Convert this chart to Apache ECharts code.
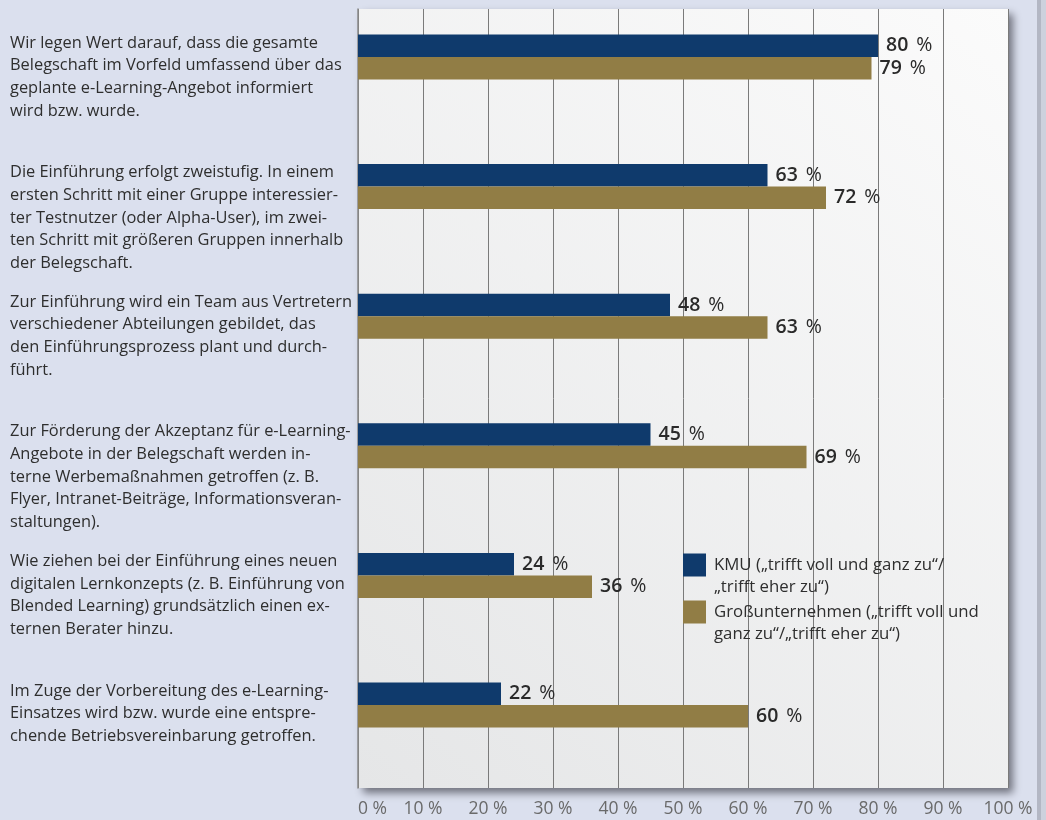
<!DOCTYPE html>
<html>
<head>
<meta charset="utf-8">
<script src="https://cdn.jsdelivr.net/npm/echarts@6/dist/echarts.min.js"></script>
<style>
html,body{margin:0;padding:0;background:#dbe0ee;}
#chart{width:1046px;height:820px;}
</style>
</head>
<body>
<div id="chart"></div>
<script>
const categories = [
  "Wir legen Wert darauf, dass die gesamte\nBelegschaft im Vorfeld umfassend über das\ngeplante e-Learning-Angebot informiert\nwird bzw. wurde.",
  "Die Einführung erfolgt zweistufig. In einem\nersten Schritt mit einer Gruppe interessier-\nter Testnutzer (oder Alpha-User), im zwei-\nten Schritt mit größeren Gruppen innerhalb\nder Belegschaft.",
  "Zur Einführung wird ein Team aus Vertretern\nverschiedener Abteilungen gebildet, das\nden Einführungsprozess plant und durch-\nführt.",
  "Zur Förderung der Akzeptanz für e-Learning-\nAngebote in der Belegschaft werden in-\nterne Werbemaßnahmen getroffen (z. B.\nFlyer, Intranet-Beiträge, Informationsveran-\nstaltungen).",
  "Wie ziehen bei der Einführung eines neuen\ndigitalen Lernkonzepts (z. B. Einführung von\nBlended Learning) grundsätzlich einen ex-\nternen Berater hinzu.",
  "Im Zuge der Vorbereitung des e-Learning-\nEinsatzes wird bzw. wurde eine entspre-\nchende Betriebsvereinbarung getroffen."
];
const seriesNames = [
  "KMU („trifft voll und ganz zu“/„trifft eher zu“)",
  "Großunternehmen („trifft voll und ganz zu“/„trifft eher zu“)"
];
const legendLabels = [
  " \nKMU („trifft voll und ganz zu“/\n„trifft eher zu“)",
  " \nGroßunternehmen („trifft voll und\nganz zu“/„trifft eher zu“)"
];
const kmuValues = [80, 63, 48, 45, 24, 22];
const grossValues = [79, 72, 63, 69, 36, 60];
const xTicks = [0, 10, 20, 30, 40, 50, 60, 70, 80, 90, 100];

const FONT = "Open Sans";
const chart = echarts.init(document.getElementById('chart'));

const plotLeft = 358, plotWidth = 650;
const barTop = -7.8, bandHeight = 777.6;

function legendFor(i, top) {
  return {
    data: [seriesNames[i]],
    left: 683, top: top, padding: 0,
    orient: 'vertical',
    itemWidth: 23, itemHeight: 23,
    icon: 'rect',
    selectedMode: false,
    formatter: function (n) { return legendLabels[seriesNames.indexOf(n)]; },
    textStyle: { fontFamily: FONT, fontSize: 16.8, color: '#2e2e2e', lineHeight: 22, padding: [0, 0, 0, 3] }
  };
}

const valueLabel = {
  show: true, position: 'right', distance: 8, formatter: '{v|{c}}{p|%}',
  rich: { v: { fontSize: 19.5, fontWeight: 600, color: '#2a2a2a', fontFamily: FONT },
          p: { fontSize: 19.5, fontWeight: 400, color: '#2a2a2a', fontFamily: FONT, padding: [0, 0, 0, 8] } }
};

chart.setOption({
  backgroundColor: '#dbe0ee',
  animation: false,
  textStyle: { fontFamily: FONT },
  graphic: [
    { type: 'rect', shape: { x: 1037, y: 0, width: 4, height: 820 }, style: { fill: '#b3b7c4' }, z: -10 },
    { type: 'rect', shape: { x: 1041, y: 0, width: 5, height: 820 }, style: { fill: '#cdd1dd' }, z: -10 }
  ],
  grid: [
    {
      left: plotLeft, top: 9, width: plotWidth, height: 779, show: true, borderWidth: 0,
      outerBoundsMode: 'none', containLabel: false,
      backgroundColor: { type: 'linear', x: 0, y: 1, x2: 1, y2: 0,
        colorStops: [{ offset: 0, color: '#e5e6e7' }, { offset: 1, color: '#fbfbfb' }] },
      shadowColor: 'rgba(40,40,50,0.6)', shadowBlur: 8, shadowOffsetX: 5, shadowOffsetY: 5
    },
    { left: plotLeft, top: barTop, width: plotWidth, height: bandHeight, outerBoundsMode: 'none', containLabel: false },
    { left: plotLeft, top: barTop - 25.5, width: plotWidth, height: bandHeight, outerBoundsMode: 'none', containLabel: false }
  ],
  xAxis: [
    {
      gridIndex: 0, type: 'value', min: 0, max: 100, interval: 10,
      axisLine: { show: false }, axisTick: { show: false },
      splitLine: { show: true, lineStyle: { color: '#7a7a7a', width: 1 } },
      axisLabel: { formatter: '{value} %', color: '#6a6a6a', fontSize: 17.5, margin: 12, alignMinLabel: 'left', fontFamily: FONT }
    },
    { gridIndex: 1, type: 'value', min: 0, max: 100, show: false },
    { gridIndex: 2, type: 'value', min: 0, max: 100, show: false }
  ],
  yAxis: [
    { gridIndex: 0, type: 'value', min: 0, max: 1,
      axisLine: { show: true, lineStyle: { color: '#8a8a8a', width: 1.5 } },
      axisTick: { show: false }, axisLabel: { show: false }, splitLine: { show: false } },
    { gridIndex: 1, type: 'category', inverse: true, data: categories, show: false },
    { gridIndex: 2, type: 'category', inverse: true, data: categories,
      axisLine: { show: false }, axisTick: { show: false }, splitLine: { show: false },
      axisLabel: { show: true, align: 'left', margin: 348, verticalAlign: 'top', color: '#2e2e2e',
        fontSize: 16.4, lineHeight: 22.7, fontFamily: FONT, interval: 0 } }
  ],
  legend: [legendFor(0, 532), legendFor(1, 579)],
  series: [
    {
      name: seriesNames[0], type: 'bar', xAxisIndex: 1, yAxisIndex: 1,
      data: kmuValues, barWidth: 22.5, barGap: '0%',
      itemStyle: { color: '#0f3a6c' }, label: valueLabel
    },
    {
      name: seriesNames[1], type: 'bar', xAxisIndex: 1, yAxisIndex: 1,
      data: grossValues, barWidth: 22.5, barGap: '0%',
      itemStyle: { color: '#917d45' }, label: valueLabel
    }
  ]
});
</script>
</body>
</html>
